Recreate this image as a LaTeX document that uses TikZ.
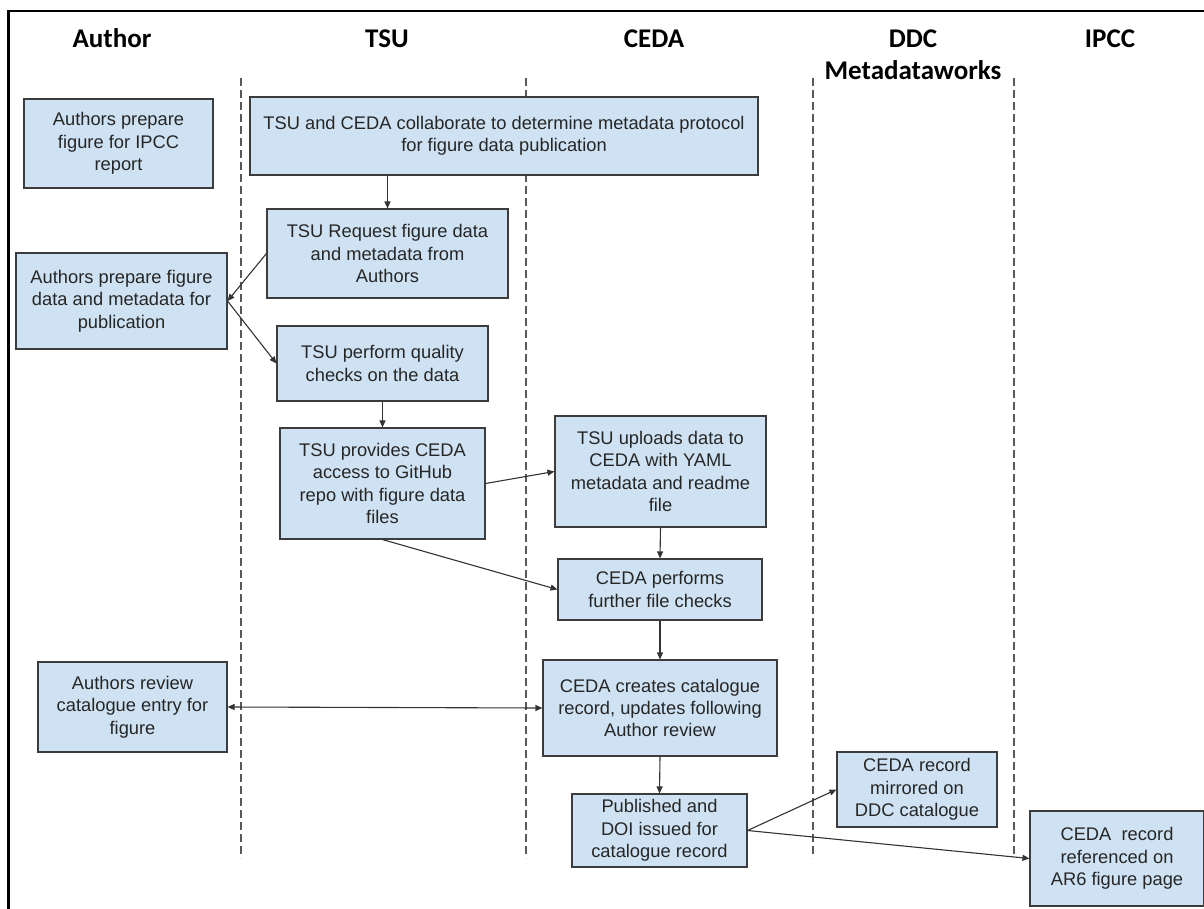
\documentclass[tikz,border=0pt]{standalone}
\usepackage{fontspec}
\setmainfont{Liberation Sans}
\newfontfamily\headfont{Carlito}
\usetikzlibrary{arrows.meta}
\definecolor{boxfill}{HTML}{CFE2F3}
\definecolor{boxline}{HTML}{3C3C3C}
\tikzset{
  >={Triangle[length=7pt,width=6pt]},
  box/.style={draw=boxline, line width=1.1pt, fill=boxfill, align=center, inner sep=0pt,
    font=\fontsize{18.3}{22.3}\selectfont, text=black!85},
  head/.style={font=\headfont\bfseries\fontsize{27}{32}\selectfont, anchor=base, inner sep=0pt},
  lane/.style={draw=black!65, line width=1.2pt, dash pattern=on 8pt off 4pt},
  conn/.style={draw=black!80, line width=1.1pt, ->},
  conn2/.style={draw=black!80, line width=1.1pt, <->},
}
\begin{document}
\begin{tikzpicture}[x=1pt,y=-1pt]
\useasboundingbox (0,0) rectangle (1204,909);
\clip (0,0) rectangle (1204,909);
% frame
\draw[line width=2.5pt] (8.3,920) -- (8.3,11) -- (1215,11);
% headers
\node[head] (hA) at (112,48) {Author};
\node[head] (hT) at (387,48) {TSU};
\node[head] (hC) at (654,48) {CEDA};
\node[head] (hD) at (913,48) {DDC};
\node[head] (hM) at (913,80) {Metadataworks};
\node[head] (hI) at (1110,48) {IPCC};
% lanes
\coordinate (l1t) at (241,78); \coordinate (l1b) at (241,858);
\coordinate (l2t) at (526,78); \coordinate (l2b) at (526,858);
\coordinate (l3t) at (813,78); \coordinate (l3b) at (813,858);
\coordinate (l4t) at (1014,78); \coordinate (l4b) at (1014,858);
\draw[lane] (l1t) -- (l1b);
\draw[lane] (l2t) -- (l2b);
\draw[lane] (l3t) -- (l3b);
\draw[lane] (l4t) -- (l4b);
% boxes
\node[box, minimum width=189pt, minimum height=89pt] (B1) at (118.5,143.5) {Authors prepare\\figure for IPCC\\report};
\node[box, minimum width=508pt, minimum height=78pt] (T1) at (504,136) {TSU and CEDA collaborate to determine metadata protocol\\for figure data publication};
\node[box, minimum width=241pt, minimum height=89pt] (T2) at (387.5,253.5) {TSU Request figure data\\and metadata from\\Authors};
\node[box, minimum width=211pt, minimum height=96pt] (A2) at (121.5,301) {Authors prepare figure\\data and metadata for\\publication};
\node[box, minimum width=211pt, minimum height=75pt] (T3) at (382.5,363.5) {TSU perform quality\\checks on the data};
\node[box, minimum width=205pt, minimum height=111pt] (T4) at (382.5,483.5) {TSU provides CEDA\\access to GitHub\\repo with figure data\\files};
\node[box, minimum width=211pt, minimum height=111pt] (C1) at (660.5,471.5) {TSU uploads data to\\CEDA with YAML\\metadata and readme\\file};
\node[box, minimum width=204pt, minimum height=61pt] (C2) at (660,589.5) {CEDA performs\\further file checks};
\node[box, minimum width=189pt, minimum height=90pt] (A3) at (132.5,707) {Authors review\\catalogue entry for\\figure};
\node[box, minimum width=234pt, minimum height=96pt] (C3) at (660,708) {CEDA creates catalogue\\record, updates following\\Author review};
\node[box, minimum width=175pt, minimum height=73pt] (C4) at (659.5,830.5) {Published and\\DOI issued for\\catalogue record};
\node[box, minimum width=160pt, minimum height=75pt] (D1) at (917,789.5) {CEDA record\\mirrored on\\DDC catalogue};
\node[box, minimum width=174pt, minimum height=95pt] (I1) at (1117,858.5) {CEDA\ \ record\\referenced on\\AR6 figure page};
% connectors
\draw[conn] (T2.north |- T1.south) -- (T2.north);
\draw[conn] (T2.west) -- (A2.east);
\draw[conn] (A2.east) -- (T3.west);
\draw[conn] (T3.south) -- (T4.north);
\draw[conn] (T4.east) -- (C1.west);
\draw[conn] (T4.south) -- (C2.west);
\draw[conn] (C1.south) -- (C2.north);
\draw[conn] (C2.south) -- (C3.north);
\draw[conn2] (A3.east) -- (C3.west);
\draw[conn] (C3.south) -- (C4.north);
\draw[conn] (C4.east) -- (D1.west);
\draw[conn] (C4.east) -- (I1.west);
\end{tikzpicture}
\end{document}
